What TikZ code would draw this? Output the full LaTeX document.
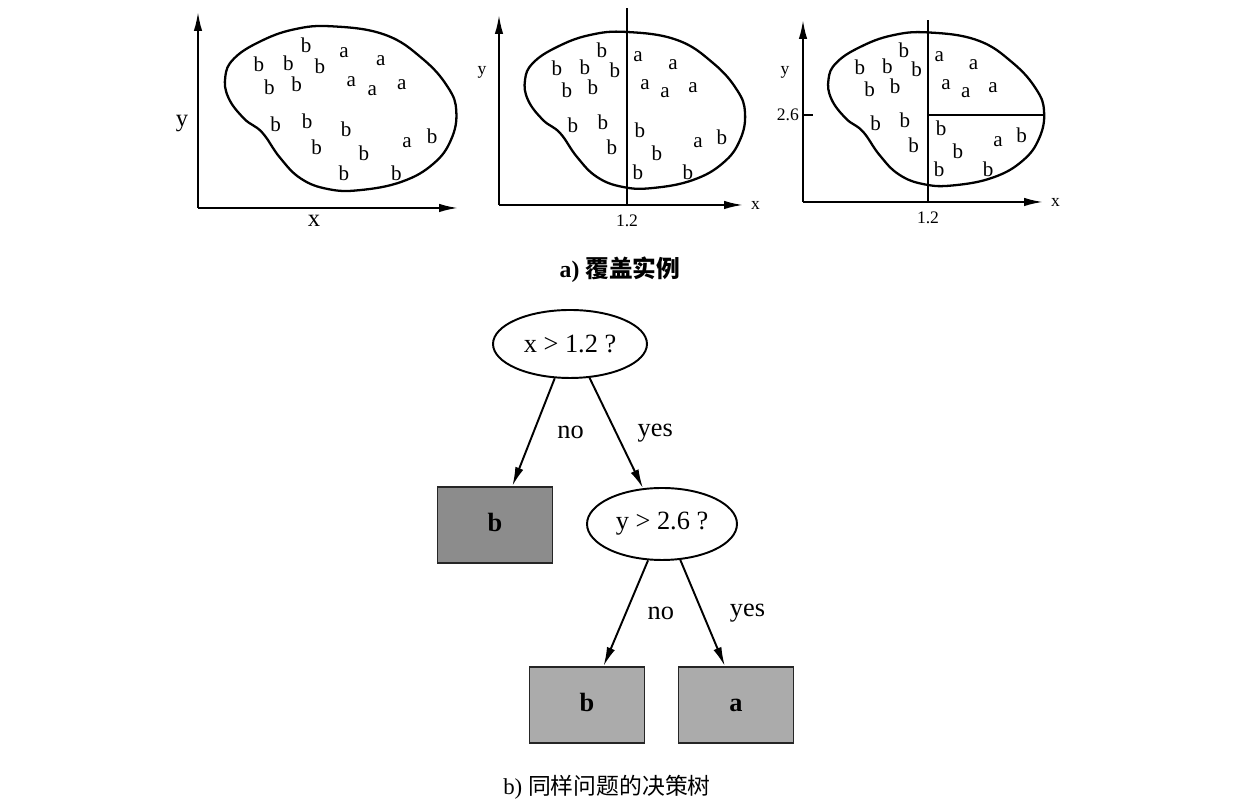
\documentclass[tikz,border=0pt]{standalone}
\usepackage{fontspec}
\setmainfont{Liberation Serif}
\newfontfamily\cjk{Noto Sans CJK SC}
\usetikzlibrary{shapes.geometric,arrows.meta}

\definecolor{leafdark}{gray}{0.55}
\definecolor{leaflight}{gray}{0.67}

% outline of the example set (plot 2 units, origin at the axes)
\newcommand\blobshape{%
  \draw[blobline] plot[smooth cycle,tension=0.7] coordinates {
    (128,173) (178,165) (214,142) (238,115) (246,92) (241,65) (224,42)
    (194,25) (154,17) (124,18) (98,28) (78,48) (61,72) (44,85)
    (29,105) (26,125) (34,142) (58,158) (91,170)};}
% the instances
\newcommand\blobletters{%
  \foreach \px/\py/\c [count=\i] in {103/155/b,139/148/a,174/140/a,58/137/b,
      86/138/b,116/135/b,146/120/a,68/115/b,94/118/b,166/112/a,194/117/a,
      74/80/b,104/83/b,141/75/b,199/62/a,223/68/b,113/58/b,158/52/b,
      139/33/b,189/33/b}
    \node[pt] (p\i) at (\px,\py) {\c};}

\begin{document}
\begin{tikzpicture}[x=0.02cm,y=0.02cm,>={Latex[length=0.38cm,width=0.17cm]},
  blobline/.style={line width=1.3pt},
  axis/.style={->,line width=1.1pt},
  pt/.style={inner sep=0,font=\fontsize{12}{12}\selectfont},
  small/.style={inner sep=1pt,font=\fontsize{10}{10}\selectfont},
  big/.style={inner sep=1pt,font=\fontsize{14}{14}\selectfont},
  test/.style={draw,ellipse,line width=1.1pt,minimum width=3.08cm,
    minimum height=1.36cm,inner sep=0,font=\fontsize{15}{15}\selectfont},
  leaf/.style={draw=black!85,line width=1.1pt,minimum width=2.3cm,
    minimum height=1.52cm,text height=0.7em,text depth=0pt,
    font=\bfseries\fontsize{15}{15}\selectfont},
  branch/.style={->,line width=1.1pt},
  lbl/.style={midway,font=\fontsize{15}{15}\selectfont}]

\useasboundingbox (0,0) rectangle (1241,800);

% a) first plot
\begin{scope}[shift={(198,592)},name prefix=one-]
\draw[axis] (0,0) -- (0,196);
\draw[axis] (0,0) -- (260,0);
\node[big] (ylab) at (-16,84) {y};
\node[big] (xlab) at (116,-13) {x};
\begin{scope}[scale=1.05]
\blobshape
\blobletters
\end{scope}
\end{scope}

% second plot, split at x = 1.2
\begin{scope}[shift={(499,595)},name prefix=two-]
\draw[axis] (0,0) -- (0,190);
\draw[axis] (0,0) -- (244,0);
\draw[line width=1.1pt] (128,0) -- (128,197);
\node[small] (ylab) at (-17,133) {y};
\node[small,anchor=west] (xlab) at (250,0) {x};
\node[small] (xcut) at (128,-16) {1.2};
\blobshape
\blobletters
\end{scope}

% third plot, split again at y = 2.6
\begin{scope}[shift={(803,598)},name prefix=three-]
\draw[axis] (0,0) -- (0,182);
\draw[axis] (0,0) -- (240,0);
\draw[line width=1.1pt] (125,0) -- (125,182);
\draw[line width=1.1pt] (125,87) -- (240,87);
\draw[line width=1.1pt] (0,87) -- (10,87);
\node[small,anchor=east] (ycut) at (-2,87) {2.6};
\node[small] (ylab) at (-18,130) {y};
\node[small,anchor=west] (xlab) at (246,0) {x};
\node[small] (xcut) at (125,-16) {1.2};
\begin{scope}[scale=0.98]
\blobshape
\blobletters
\end{scope}
\end{scope}

\node[font=\bfseries\fontsize{13.5}{14}\selectfont] (capa) at (620,530)
  {a) {\cjk\bfseries 覆盖实例}};

% b) the tree
\node[test] (q1) at (570,456) {x > 1.2 ?};
\node[leaf,fill=leafdark] (b1) at (495,275) {b};
\node[test,minimum width=3cm,minimum height=1.44cm] (q2) at (662,276) {y > 2.6 ?};
\node[leaf,fill=leaflight] (b2) at (587,95) {b};
\node[leaf,fill=leaflight] (a1) at (736,95) {a};

\draw[branch] (q1.246) -- (b1.66) node[lbl,xshift=0.74cm] {no};
\draw[branch] (q1.300) -- (q2.118) node[lbl,xshift=0.78cm] {yes};
\draw[branch] (q2.249) -- (b2.67) node[lbl,xshift=0.7cm] {no};
\draw[branch] (q2.297) -- (a1.106) node[lbl,xshift=0.9cm] {yes};

\node[font=\fontsize{13}{14}\selectfont] (capb) at (607,13)
  {b) {\cjk 同样问题的决策树}};
\end{tikzpicture}
\end{document}
